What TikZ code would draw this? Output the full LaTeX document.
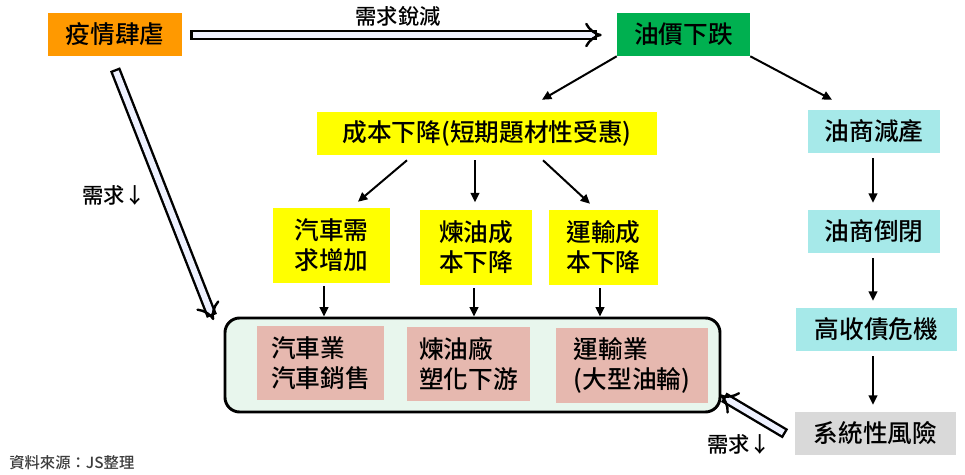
\documentclass[tikz,border=0pt]{standalone}
\usepackage{fontspec}
\setmainfont{Noto Sans CJK TC}[UprightFont={* Medium}]
\usepackage{tikz}
\usetikzlibrary{arrows.meta,calc}

\definecolor{pandemicOrange}{RGB}{255,153,0}
\definecolor{oilGreen}{RGB}{0,176,80}
\definecolor{costYellow}{RGB}{255,255,0}
\definecolor{supplyCyan}{RGB}{166,233,233}
\definecolor{riskGray}{RGB}{217,217,217}
\definecolor{sectorPink}{RGB}{230,184,175}
\definecolor{sectorGreen}{RGB}{232,246,237}
\definecolor{arrowFill}{RGB}{238,241,255}
\definecolor{sourceGray}{RGB}{60,60,60}

\begin{document}
\begin{tikzpicture}[x=0.75pt,y=0.75pt,yscale=-1,xscale=1,
    box/.style={inner sep=0pt, minimum height=32.25pt, align=center, font=\fontsize{18.5}{22.5}\selectfont},
    twoline/.style={box, align=left, minimum height=56.25pt},
    thinarr/.style={line width=1.5pt, -{Triangle[length=7pt,width=6.5pt]}},
    hollowarr/.style={line width=1.8pt, double=arrowFill, double distance=4.5pt, line cap=rect, -{Implies}},
    lbl/.style={inner sep=0pt, font=\fontsize{16}{18}\selectfont}]
        \useasboundingbox (0,0) rectangle (965,475);

        %Shape: Rectangle [top row]
        \node (pandemic) [box, fill=pandemicOrange, minimum width=100.5pt] at (115,34.5) {疫情肆虐};
        \node (oil) [box, fill=oilGreen, minimum width=99.75pt] at (683.5,34.5) {油價下跌};

        %Shape: Rectangle [cost branch]
        \node (cost) [box, fill=costYellow, minimum width=255pt] at (487,133.5) {成本下降(短期題材性受惠)};
        \node (carDemand) [twoline, fill=costYellow, minimum width=87.75pt] at (331.5,245.5) {汽車需\\求增加};
        \node (refineCost) [twoline, fill=costYellow, minimum width=84pt] at (476,247.5) {煉油成\\本下降};
        \node (shipCost) [twoline, fill=costYellow, minimum width=81.75pt] at (603.5,247.5) {運輸成\\本下降};

        %Shape: Rounded Rect [industries]
        \node (sector) [draw, line width=2.2pt, rounded corners=11pt, fill=sectorGreen, minimum width=371.25pt, minimum height=70.5pt] at (472.5,365) {};
        \node (carInd) [twoline, fill=sectorPink, minimum width=95.25pt, minimum height=55.5pt] at (320.5,363) {汽車業\\汽車銷售};
        \node (refinery) [twoline, fill=sectorPink, minimum width=92.25pt, minimum height=55.5pt] at (468.5,364) {煉油廠\\塑化下游};
        \node (shipping) [twoline, fill=sectorPink, minimum width=114pt] at (632,365.5) {運輸業\\(大型油輪)};

        %Shape: Rectangle [supply branch]
        \node (cut) [box, fill=supplyCyan, minimum width=99pt] at (874,131.5) {油商減產};
        \node (close) [box, fill=supplyCyan, minimum width=99pt] at (874,231.5) {油商倒閉};
        \node (junk) [box, fill=supplyCyan, minimum width=120.75pt] at (876.5,329.5) {高收債危機};
        \node (risk) [box, fill=riskGray, minimum width=120.75pt] at (875.5,433.5) {系統性風險};

        %Straight Lines
        \coordinate (costIn) at ($(cost.north)+(55,-12)$);
        \coordinate (cutIn) at ($(cut.north)+(-42,-10)$);
        \draw [thinarr] (oil.south west) -- (costIn);
        \draw [thinarr] (oil.south east) -- (cutIn);
        \draw [thinarr] ($(cost.south)+(-80,5)$) -- ($(carDemand.north)+(26.5,-6)$);
        \draw [thinarr] ($(cost.south)+(-12,5)$) -- ($(cost.south)+(-12,47)$);
        \draw [thinarr] ($(cost.south)+(56,5)$) -- ($(shipCost.north)+(-13.5,-6)$);
        \coordinate (carOut) at ($(carDemand.south)+(-7.5,3)$);
        \coordinate (refineOut) at ($(refineCost.south)+(-2,3)$);
        \coordinate (shipOut) at ($(shipCost.south)+(-3.5,3)$);
        \draw [thinarr] (carOut) -- (carOut |- sector.north);
        \draw [thinarr] (refineOut) -- (refineOut |- sector.north);
        \draw [thinarr] (shipOut) -- (shipOut |- sector.north);
        \coordinate (cutOut) at ($(cut.south)+(-1,5)$);
        \coordinate (closeOut) at ($(close.south)+(-1,5)$);
        \coordinate (junkOut) at ($(junk.south)+(-3.5,5)$);
        \draw [thinarr, shorten >=5.25pt] (cutOut) -- (cutOut |- close.north);
        \draw [thinarr, shorten >=5.25pt] (closeOut) -- (closeOut |- junk.north);
        \draw [thinarr, shorten >=5.25pt] (junkOut) -- (junkOut |- risk.north);

        %Hollow Arrows
        \draw [hollowarr] ($(pandemic.east)+(13.5,0.5)$) -- ($(oil.west)+(-15,0.5)$);
        \draw [hollowarr] ($(pandemic.south)+(2,18)$) -- ($(sector.north west)+(-10,3.5)$);
        \draw [hollowarr] ($(risk.west)+(-14,-2.5)$) -- ($(sector.south east)+(-1.5,-18.5)$);

        % Text Node
        \node (dropLbl) [lbl] at (398,16) {需求銳減};
        % Text Node
        \node (downLeft) [lbl] at (114,195) {需求↓};
        % Text Node
        \node (downRight) [lbl] at (739,444) {需求↓};
        % Text Node
        \node (source) [inner sep=0pt, anchor=west, text=sourceGray, font=\fontsize{11.5}{13}\selectfont] at (9,463) {資料來源：JS整理};

\end{tikzpicture}
\end{document}
